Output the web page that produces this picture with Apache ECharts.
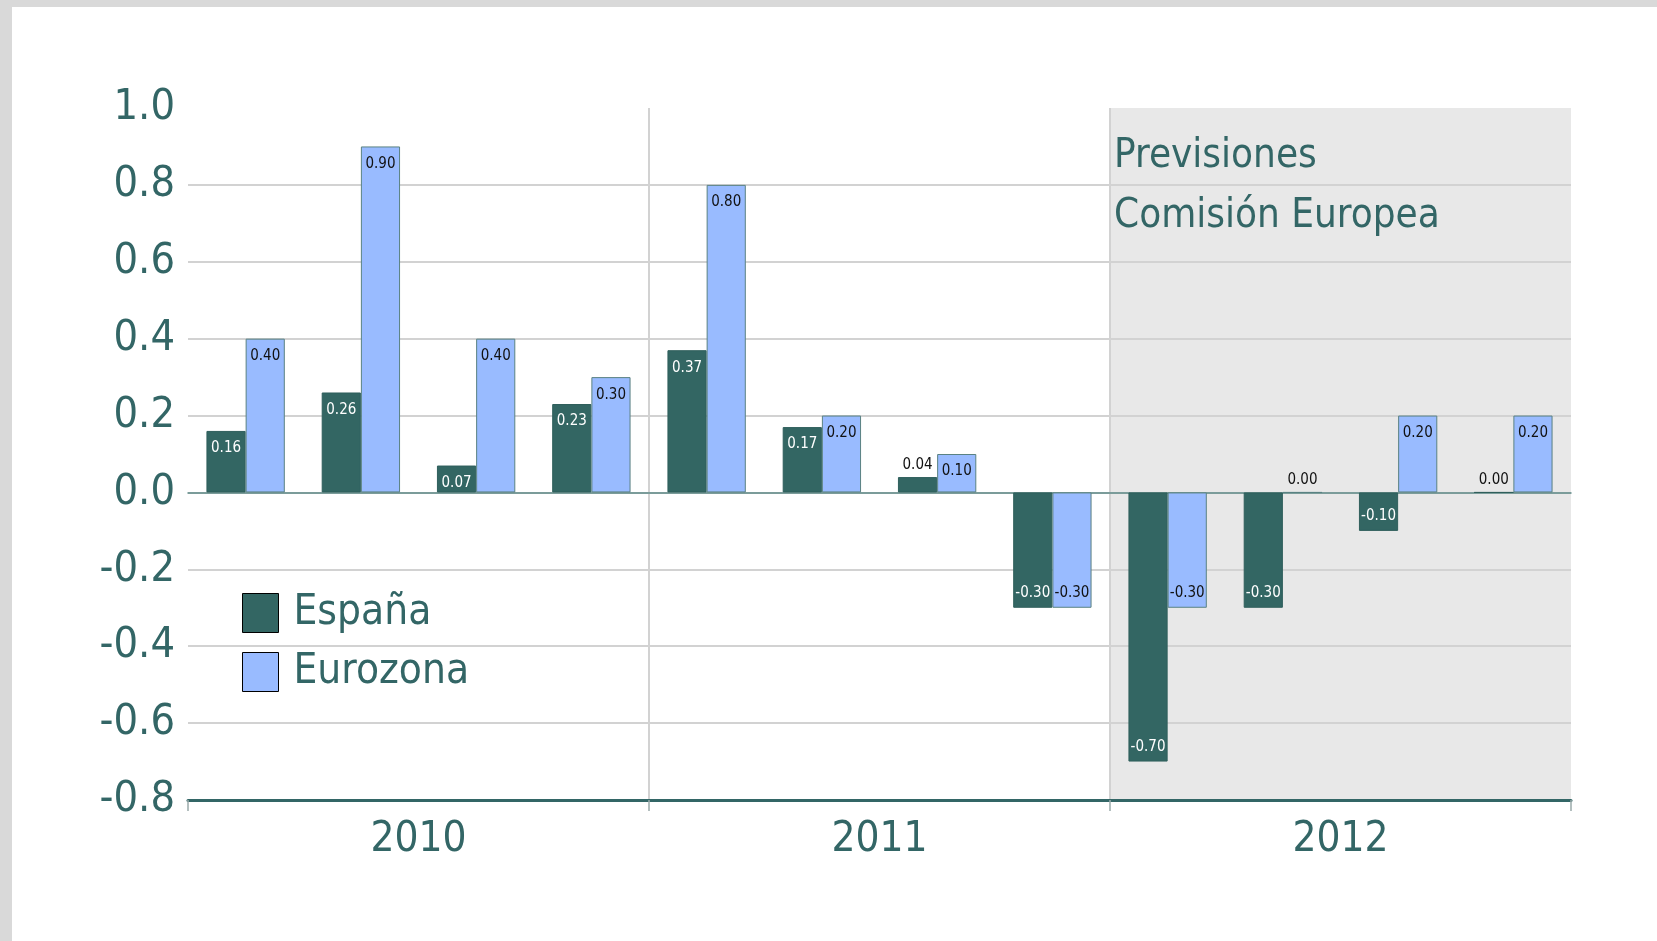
<!DOCTYPE html>
<html>
<head>
<meta charset="utf-8">
<script src="https://cdn.jsdelivr.net/npm/echarts@6/dist/echarts.min.js"></script>
<style>
html,body{margin:0;padding:0;background:#d9d9d9;width:1657px;height:941px;overflow:hidden;}
#c{position:absolute;left:12px;top:7px;width:1645px;height:934px;background:#ffffff;}
</style>
</head>
<body>
<div id="c"></div>
<script>
// ---- data ----
const quarters = ['2010 T1','2010 T2','2010 T3','2010 T4','2011 T1','2011 T2','2011 T3','2011 T4','2012 T1','2012 T2','2012 T3','2012 T4'];
const years = ['2010','2011','2012'];
const espana   = [0.16, 0.26, 0.07, 0.23, 0.37, 0.17, 0.04, -0.30, -0.70, -0.30, -0.10, 0.00];
const eurozona = [0.40, 0.90, 0.40, 0.30, 0.80, 0.20, 0.10, -0.30, -0.30, 0.00, 0.20, 0.20];
const seriesNames = ['España', 'Eurozona'];
const shadedYears = ['2012'];
const forecastLabel = ['Previsiones', 'Comisión Europea'];
const yMin = -0.8, yMax = 1.0, yStep = 0.2;

// ---- style ----
const FONT = '"Liberation Sans Narrow","DejaVu Sans Condensed","Liberation Sans",sans-serif';
const TEAL = '#336666';
const C_ES = '#336663';
const C_EZ = '#99bbff';

function buildItems(values, insideColor) {
  return values.map(v => {
    let pos, dist, col;
    if (Math.abs(v) < 0.05) { pos = 'top'; dist = 4; col = '#111'; }
    else if (v > 0) { pos = 'insideTop'; dist = 10; col = insideColor; }
    else { pos = 'insideBottom'; dist = 7; col = insideColor; }
    return { value: v, label: { position: pos, distance: dist, color: col } };
  });
}

const chart = echarts.init(document.getElementById('c'), null, {renderer: 'canvas'});
const labelBase = {
  show: true,
  fontFamily: FONT,
  fontSize: 15,
  formatter: p => p.value.toFixed(2)
};

chart.setOption({
  animation: false,
  textStyle: {fontFamily: FONT},
  grid: {left: 176, right: 86, top: 101, bottom: 141, containLabel: false},
  legend: {
    data: seriesNames,
    orient: 'vertical',
    left: 225,
    top: 580,
    itemWidth: 36,
    itemHeight: 39,
    itemGap: 17,
    icon: 'rect',
    itemStyle: {borderColor: '#000', borderWidth: 1},
    textStyle: {fontFamily: FONT, fontSize: 42, color: TEAL, lineHeight: 39, padding: [0, 0, 0, 10]}
  },
  xAxis: [
    {
      type: 'category', data: quarters, position: 'bottom', z: 1,
      axisLine: {show: true, onZero: true, lineStyle: {color: '#5f8a88', width: 1.5}},
      axisTick: {show: false}, axisLabel: {show: false}, splitLine: {show: false}
    },
    {
      type: 'category', data: years, position: 'bottom', z: 1,
      axisLine: {show: true, onZero: false, lineStyle: {color: TEAL, width: 3}},
      axisTick: {show: true, length: 11, lineStyle: {color: '#9aaaaa', width: 1.5}},
      axisLabel: {show: true, fontFamily: FONT, fontSize: 42, color: TEAL, margin: 19},
      splitLine: {show: true, showMinLine: false, showMaxLine: false, lineStyle: {color: '#d2d2d2', width: 2}}
    },
  ],
  yAxis: {
    type: 'value', min: yMin, max: yMax, interval: yStep, z: 1,
    axisLine: {show: false}, axisTick: {show: false},
    axisLabel: {fontFamily: FONT, fontSize: 43, color: TEAL, margin: 13, padding: [0, 0, 6, 0],
      formatter: v => v.toFixed(1)},
    splitLine: {show: true, showMinLine: false, showMaxLine: false, lineStyle: {color: '#d2d2d2', width: 2}}
  },
  series: [
    {
      type: 'custom', xAxisIndex: 1, yAxisIndex: 0, z: 0, silent: true,
      data: shadedYears.map(y => [y, yMax]),
      encode: {x: 0, y: 1},
      renderItem: (params, api) => {
        const idx = api.value(0);
        const w = api.size([1, 0])[0];
        const cx = api.coord([idx, yMax])[0];
        const top = api.coord([idx, yMax])[1];
        const bot = api.coord([idx, yMin])[1];
        const x0 = cx - w / 2;
        return {
          type: 'group',
          children: [
            {type: 'rect', shape: {x: x0, y: top, width: w, height: bot - top}, style: {fill: '#e8e8e8'}},
            {type: 'text', style: {text: forecastLabel[0], x: x0 + 4, y: top + 49, verticalAlign: 'middle', align: 'left',
              fontFamily: FONT, fontSize: 40, fill: TEAL}},
            {type: 'text', style: {text: forecastLabel[1], x: x0 + 4, y: top + 109, verticalAlign: 'middle', align: 'left',
              fontFamily: FONT, fontSize: 40, fill: TEAL}}
          ]
        };
      }
    },
    {
      name: seriesNames[0], type: 'bar', xAxisIndex: 0, z: 2,
      barGap: '0%', barCategoryGap: '32%',
      itemStyle: {color: C_ES, borderColor: '#2f5f5c', borderWidth: 1},
      label: labelBase,
      data: buildItems(espana, '#ffffff')
    },
    {
      name: seriesNames[1], type: 'bar', xAxisIndex: 0, z: 2,
      barGap: '0%', barCategoryGap: '32%',
      itemStyle: {color: C_EZ, borderColor: '#5a8282', borderWidth: 1},
      label: labelBase,
      data: buildItems(eurozona, '#111111')
    }
  ]
});
</script>
</body>
</html>
